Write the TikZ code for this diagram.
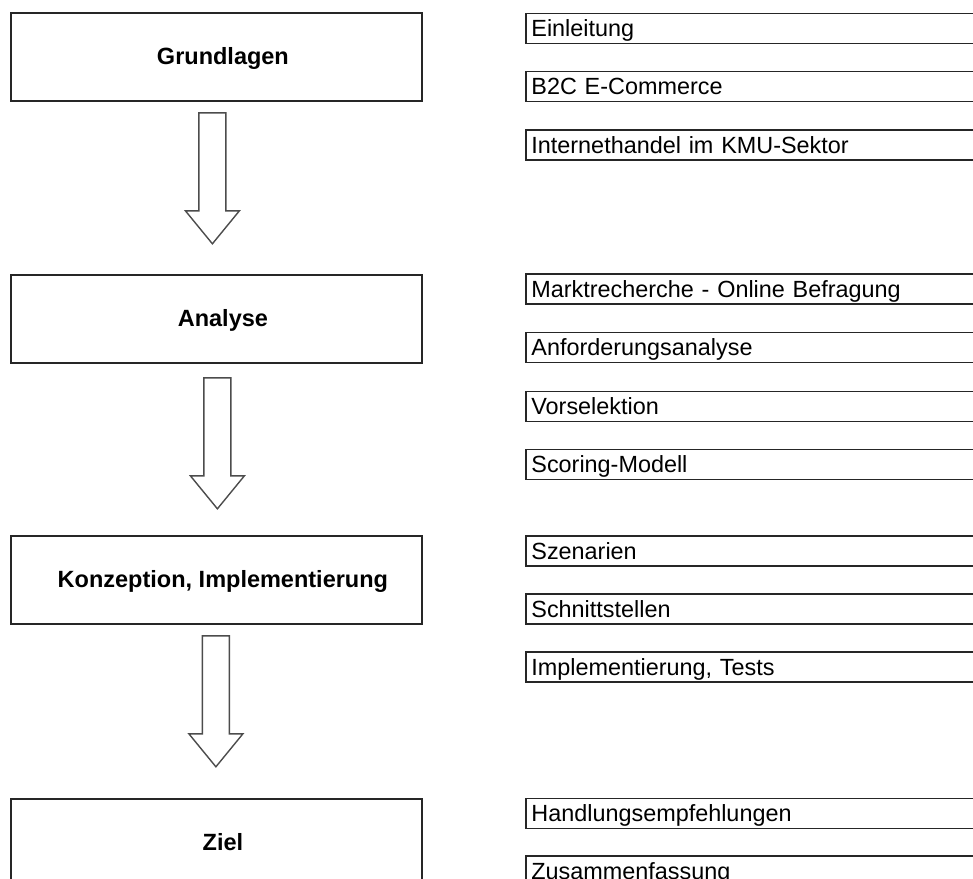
\documentclass[tikz,border=0pt]{standalone}
\usepackage{fontspec}
\setmainfont{Liberation Sans}
\usetikzlibrary{calc}

\tikzset{
  phase/.style={draw=black!85, line width=1.8pt, minimum width=411pt,
    minimum height=88pt, inner sep=0pt, anchor=north west,
    font=\fontsize{23.5}{26}\selectfont\bfseries, text height=16pt, text depth=0pt},
  item/.style={draw=black!85, line width=1.8pt, anchor=north west,
    text width=460pt, inner xsep=5.5pt, inner ysep=0pt, minimum height=30pt,
    align=left, font=\fontsize{23.4}{26}\selectfont, text height=17pt, text depth=0pt},
  arrowline/.style={draw=black!70, line width=1.4pt, fill=white, line join=miter},
  blockarrow/.pic={
    \path[arrowline] (-13.5,0) -- (13.5,0) -- (13.5,98) -- (27,98) -- (0,131)
      -- (-27,98) -- (-13.5,98) -- cycle;
  }
}

\begin{document}
\begin{tikzpicture}[x=1pt,y=-1pt]
\clip (0,0) rectangle (973,878);
\fill[white] (0,0) rectangle (973,878);

% phases on the left
\node[phase] (grund) at (10,12)  {\hspace{13pt}Grundlagen};
\node[phase] (anal)  at (10,274) {\hspace{13pt}Analyse};
\node[phase] (konz)  at (10,535) {\hspace{13pt}Konzeption, Implementierung};
\node[phase] (ziel)  at (10,798) {\hspace{13pt}Ziel};

% block arrows between the phases
\pic at ($(grund.south)+(-4,11)$) {blockarrow};
\pic at ($(anal.south)+(1,14)$) {blockarrow};
\pic at ($(konz.south)+(-0.5,11)$) {blockarrow};

% topics on the right
\node[item] (i1)  at (525,12.5)  {Einleitung};
\node[item] (i2)  at (525,70.5)  {B2C E-Commerce};
\node[item] (i3)  at (525,129)   {Internethandel im KMU-Sektor};

\node[item] (i4)  at (525,273)   {Marktrecherche - Online Befragung};
\node[item] (i5)  at (525,331.5) {Anforderungsanalyse};
\node[item] (i6)  at (525,390.5) {Vorselektion};
\node[item] (i7)  at (525,448.5) {Scoring-Modell};

\node[item] (i8)  at (525,535)   {Szenarien};
\node[item] (i9)  at (525,593)   {Schnittstellen};
\node[item] (i10) at (525,651)   {Implementierung, Tests};

\node[item] (i11) at (525,797.5) {Handlungsempfehlungen};
\node[item] (i12) at (525,855)   {Zusammenfassung};
\end{tikzpicture}
\end{document}
